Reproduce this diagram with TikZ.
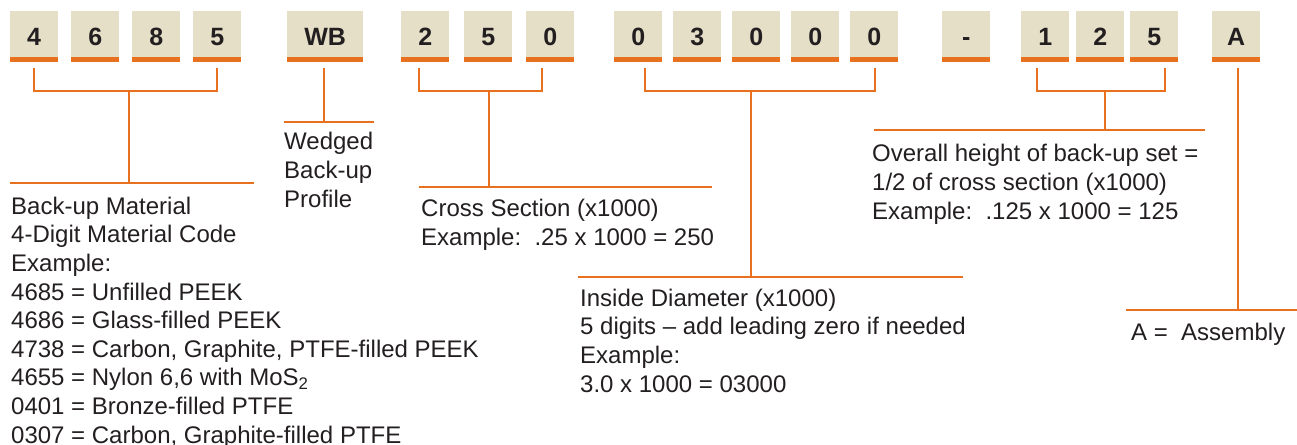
\documentclass[tikz,border=0pt]{standalone}
\usepackage{fontspec}
\setmainfont{Liberation Sans}
\usetikzlibrary{positioning, calc}
\definecolor{codetan}{HTML}{E5DFC8}
\definecolor{codeorange}{HTML}{E8711F}
\definecolor{codeink}{HTML}{231F20}
\tikzset{
  digit/.style = {rectangle, fill=codetan, inner sep=0pt, anchor=north west,
                  minimum width=48pt, minimum height=51pt, text=codeink,
                  text height=18pt, text depth=0pt,
                  font=\fontsize{25}{25}\selectfont\bfseries,
                  path picture={\fill[codeorange]
                    (path picture bounding box.south west) rectangle
                    ([yshift=5pt]path picture bounding box.south east);}},
  lead/.style  = {draw=codeorange, line width=2pt},
  note/.style  = {align=left, anchor=base west, inner sep=0pt, text=codeink,
                  font=\fontsize{24}{28.6}\selectfont}
}
\begin{document}
\begin{tikzpicture}[x=1pt, y=-1pt]
  \useasboundingbox (0,0) rectangle (1297,444);

  % ── Code boxes ────────────────────────────────────────────────────────────
  \node[digit] (MatA) at (10,11)  {4};
  \node[digit] (MatB) at (71,11)  {6};
  \node[digit] (MatC) at (132,11) {8};
  \node[digit] (MatD) at (193,11) {5};
  \node[digit, minimum width=76pt] (Wedge) at (287,11) {WB};
  \node[digit] (CsA)  at (401,11) {2};
  \node[digit] (CsB)  at (464,11) {5};
  \node[digit] (CsC)  at (526,11) {0};
  \node[digit] (IdA)  at (614,11) {0};
  \node[digit] (IdB)  at (673,11) {3};
  \node[digit] (IdC)  at (732,11) {0};
  \node[digit] (IdD)  at (791,11) {0};
  \node[digit] (IdE)  at (850,11) {0};
  \node[digit] (Dash) at (942,11) {-};
  \node[digit] (HtA)  at (1021,11) {1};
  \node[digit] (HtB)  at (1076,11) {2};
  \node[digit] (HtC)  at (1130,11) {5};
  \node[digit] (Asm)  at (1212,11) {A};

  % ── Junctions and label bars ──────────────────────────────────────────────
  \coordinate (MatJoin) at (129,91);
  \coordinate (CsJoin)  at (489,91);
  \coordinate (IdJoin)  at (751,91);
  \coordinate (HtJoin)  at (1105,91);

  \coordinate (MatBarL) at (10,183);    \coordinate (MatBarR) at (254,183);
  \coordinate (WedgeBarL) at (284,122); \coordinate (WedgeBarR) at (374,122);
  \coordinate (CsBarL) at (419,187);    \coordinate (CsBarR) at (712,187);
  \coordinate (IdBarL) at (578,277);    \coordinate (IdBarR) at (963,277);
  \coordinate (HtBarL) at (874,130);    \coordinate (HtBarR) at (1205,130);
  \coordinate (AsmBarL) at (1126,310);  \coordinate (AsmBarR) at (1297,310);

  % ── Brackets ──────────────────────────────────────────────────────────────
  \draw[lead] ([yshift=-6pt]MatA.south) -- (MatA.south |- MatJoin)
              -- (MatD.south |- MatJoin) -- ([yshift=-6pt]MatD.south);
  \draw[lead] ([xshift=-6pt,yshift=-6pt]CsA.south) -- ([xshift=-6pt]CsA.south |- CsJoin)
              -- ([xshift=-8pt]CsC.south |- CsJoin) -- ([xshift=-8pt,yshift=-6pt]CsC.south);
  \draw[lead] ([xshift=7pt,yshift=-6pt]IdA.south) -- ([xshift=7pt]IdA.south |- IdJoin)
              -- ([xshift=1pt]IdE.south |- IdJoin) -- ([xshift=1pt,yshift=-6pt]IdE.south);
  \draw[lead] ([xshift=-8pt,yshift=-6pt]HtA.south) -- ([xshift=-8pt]HtA.south |- HtJoin)
              -- ([xshift=11pt]HtC.south |- HtJoin) -- ([xshift=11pt,yshift=-6pt]HtC.south);

  % ── Stems down to the bars ────────────────────────────────────────────────
  \draw[lead] (MatJoin) -- (MatJoin |- MatBarL);
  \draw[lead] ([xshift=-1pt,yshift=-6pt]Wedge.south) -- ([xshift=-1pt]Wedge.south |- WedgeBarL);
  \draw[lead] (CsJoin) -- (CsJoin |- CsBarL);
  \draw[lead] (IdJoin) -- (IdJoin |- IdBarL);
  \draw[lead] (HtJoin) -- (HtJoin |- HtBarL);
  \draw[lead] ([xshift=2pt,yshift=-6pt]Asm.south) -- ([xshift=2pt]Asm.south |- AsmBarL);

  \draw[lead] (MatBarL) -- (MatBarR);
  \draw[lead] (WedgeBarL) -- (WedgeBarR);
  \draw[lead] (CsBarL) -- (CsBarR);
  \draw[lead] (IdBarL) -- (IdBarR);
  \draw[lead] (HtBarL) -- (HtBarR);
  \draw[lead] (AsmBarL) -- (AsmBarR);

  % ── Descriptions (anchored at the last line's baseline) ───────────────────
  \node[note] (MatNote) at (11,443)
    {Back-up Material\\4-Digit Material Code\\Example:\\
     4685 = Unfilled PEEK\\4686 = Glass-filled PEEK\\
     4738 = Carbon, Graphite, PTFE-filled PEEK\\
     4655 = Nylon 6,6 with MoS\textsubscript{2}\\
     0401 = Bronze-filled PTFE\\0307 = Carbon, Graphite-filled PTFE};
  \node[note] (WedgeNote) at (284,207) {Wedged\\Back-up\\Profile};
  \node[note] (CsNote) at (421,245)
    {Cross Section (x1000)\\Example:\ \ .25 x 1000 = 250};
  \node[note] (IdNote) at (580,392)
    {Inside Diameter (x1000)\\5 digits -- add leading zero if needed\\
     Example:\\3.0 x 1000 = 03000};
  \node[note] (HtNote) at (872,219)
    {Overall height of back-up set =\\1/2 of cross section (x1000)\\
     Example:\ \ .125 x 1000 = 125};
  \node[note] (AsmNote) at (1131,340) {A = \ Assembly};

\end{tikzpicture}
\end{document}
